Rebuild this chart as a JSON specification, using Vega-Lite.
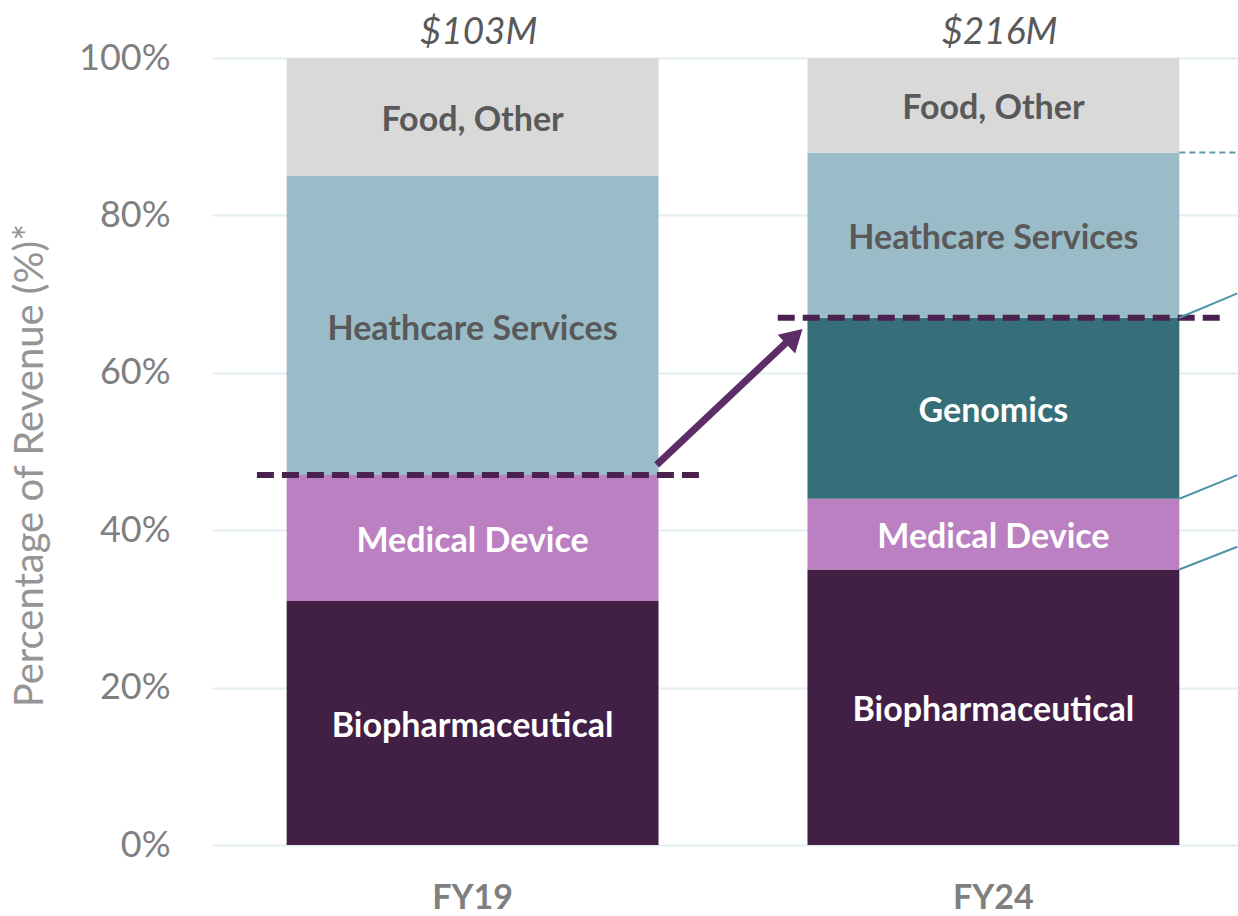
{
  "$schema": "https://vega.github.io/schema/vega-lite/v6.json",
  "width": 1026,
  "height": 787,
  "autosize": {"type": "none"},
  "padding": {"left": 212, "top": 58, "right": 0, "bottom": 71},
  "background": "white",
  "config": {
    "view": {"stroke": null},
    "font": "Lato"
  },
  "datasets": {
    "segments": [
      {"year": "FY19", "segment": "Biopharmaceutical", "rank": 1, "share": 31},
      {"year": "FY19", "segment": "Medical Device", "rank": 2, "share": 16},
      {"year": "FY19", "segment": "Heathcare Services", "rank": 4, "share": 38},
      {"year": "FY19", "segment": "Food, Other", "rank": 5, "share": 15},
      {"year": "FY24", "segment": "Biopharmaceutical", "rank": 1, "share": 35},
      {"year": "FY24", "segment": "Medical Device", "rank": 2, "share": 9},
      {"year": "FY24", "segment": "Genomics", "rank": 3, "share": 23},
      {"year": "FY24", "segment": "Heathcare Services", "rank": 4, "share": 21},
      {"year": "FY24", "segment": "Food, Other", "rank": 5, "share": 12}
    ],
    "totals": [
      {"year": "FY19", "total": "$103M"},
      {"year": "FY24", "total": "$216M"}
    ],
    "thresholds": [
      {"year": "FY19", "level": 47},
      {"year": "FY24", "level": 67}
    ],
    "arrow": [
      {"from": "FY19", "to": "FY24", "y_from": 48.3, "y_to": 64.6}
    ],
    "connectors": [
      {"year": "FY24", "y_from": 67, "y_to": 70.1},
      {"year": "FY24", "y_from": 44, "y_to": 47.0},
      {"year": "FY24", "y_from": 35, "y_to": 37.9}
    ],
    "topconnector": [
      {"year": "FY24", "y_from": 88}
    ]
  },
  "layer": [
    {
      "data": {"name": "segments"},
      "mark": {"type": "bar"},
      "encoding": {
        "x": {
          "field": "year", "type": "nominal",
          "scale": {"domain": ["FY19", "FY24"], "paddingInner": 0.286, "paddingOuter": 0.128, "align": 0.56},
          "axis": {
            "title": null, "domain": false, "ticks": false, "labelAngle": 0,
            "labelPadding": 36, "labelFontSize": 34, "labelFontWeight": "bold",
            "labelColor": "#7f7f7f", "labelFont": "Lato"
          }
        },
        "y": {
          "field": "share", "type": "quantitative", "stack": "zero",
          "scale": {"domain": [0, 100], "nice": false},
          "axis": {
            "title": "Percentage of  Revenue (%)*",
            "titleFontSize": 40, "titleFontWeight": "normal", "titleColor": "#959595",
            "titleX": -162, "titleY": 407, "titleAngle": -90, "titleFont": "Lato",
            "values": [0, 20, 40, 60, 80, 100],
            "labelExpr": "datum.value + '%'",
            "labelFontSize": 36, "labelColor": "#7f7f7f", "labelPadding": 42,
            "labelFont": "Lato",
            "domain": false, "ticks": false,
            "grid": true, "gridColor": "#E3EEF2", "gridWidth": 2
          }
        },
        "order": {"field": "rank", "type": "quantitative"},
        "color": {
          "field": "segment", "type": "nominal", "legend": null,
          "scale": {
            "domain": ["Biopharmaceutical", "Medical Device", "Genomics", "Heathcare Services", "Food, Other"],
            "range": ["#421F45", "#BB80C2", "#366F79", "#9ABCC8", "#D9D9D9"]
          }
        }
      }
    },
    {
      "data": {"name": "segments"},
      "mark": {"type": "text", "fontSize": 34, "fontWeight": "bold", "font": "Lato", "baseline": "middle", "align": "center", "dy": 4},
      "encoding": {
        "x": {"field": "year", "type": "nominal"},
        "y": {"field": "share", "type": "quantitative", "stack": "zero", "bandPosition": 0.5},
        "detail": {"field": "segment"},
        "order": {"field": "rank", "type": "quantitative"},
        "text": {"field": "segment"},
        "color": {
          "condition": {"test": "datum.segment === 'Food, Other' || datum.segment === 'Heathcare Services'", "value": "#595959"},
          "value": "#FFFFFF"
        }
      }
    },
    {
      "data": {"name": "totals"},
      "mark": {"type": "text", "fontSize": 37, "fontStyle": "italic", "font": "Lato", "color": "#595959", "baseline": "alphabetic", "align": "center", "dy": -14, "dx": 6},
      "encoding": {
        "x": {"field": "year", "type": "nominal"},
        "y": {"datum": 100, "type": "quantitative"},
        "text": {"field": "total"}
      }
    },
    {
      "data": {"name": "thresholds"},
      "mark": {"type": "rule", "color": "#4B2150", "strokeWidth": 6, "strokeDash": [17, 8]},
      "encoding": {
        "x": {"field": "year", "type": "nominal", "bandPosition": -0.08},
        "x2": {"field": "year", "bandPosition": 1.11},
        "y": {"field": "level", "type": "quantitative"}
      }
    },
    {
      "data": {"name": "arrow"},
      "mark": {"type": "rule", "color": "#5C2D66", "strokeWidth": 7},
      "encoding": {
        "x": {"field": "from", "type": "nominal", "bandPosition": 0.995},
        "x2": {"field": "to", "bandPosition": -0.04},
        "y": {"field": "y_from", "type": "quantitative"},
        "y2": {"field": "y_to"}
      }
    },
    {
      "data": {"name": "arrow"},
      "mark": {"type": "point", "shape": "triangle-up", "filled": true, "color": "#5C2D66", "size": 650, "angle": 47, "opacity": 1},
      "encoding": {
        "x": {"field": "to", "type": "nominal", "bandPosition": -0.035},
        "y": {"field": "y_to", "type": "quantitative"}
      }
    },
    {
      "data": {"name": "connectors"},
      "mark": {"type": "rule", "color": "#4E96A6", "strokeWidth": 2},
      "encoding": {
        "x": {"field": "year", "type": "nominal", "bandPosition": 1.0},
        "x2": {"field": "year", "bandPosition": 1.156},
        "y": {"field": "y_from", "type": "quantitative"},
        "y2": {"field": "y_to"}
      }
    },
    {
      "data": {"name": "topconnector"},
      "mark": {"type": "rule", "color": "#5B9AAA", "strokeWidth": 2, "strokeDash": [6, 4]},
      "encoding": {
        "x": {"field": "year", "type": "nominal", "bandPosition": 1.0},
        "x2": {"field": "year", "bandPosition": 1.156},
        "y": {"field": "y_from", "type": "quantitative"}
      }
    }
  ]
}
